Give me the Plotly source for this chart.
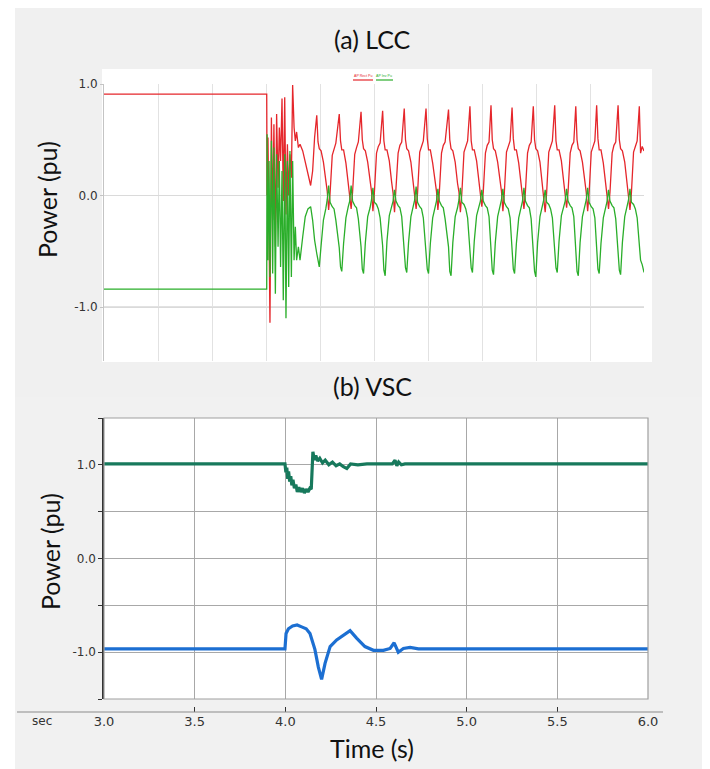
import plotly.graph_objects as go

W, H = 710, 769
OFF = 8  # page body margin offset of the rendered figure

# ---------------- (a) LCC data ----------------
t_lcc = [
    3.000, 3.904, 3.906, 3.911, 3.917, 3.922, 3.930, 3.937, 3.944, 3.952,
    3.959, 3.967, 3.974, 3.981, 3.989, 3.996, 4.004, 4.011, 4.019, 4.026,
    4.033, 4.041, 4.048, 4.056, 4.063, 4.070, 4.080, 4.089, 4.104, 4.118,
    4.133, 4.148, 4.159, 4.170,
    4.182, 4.189, 4.196, 4.206, 4.219, 4.232, 4.240, 4.248, 4.256, 4.268, 4.278, 4.288,
    4.307, 4.314, 4.321, 4.331, 4.344, 4.357, 4.365, 4.373, 4.381, 4.393, 4.403, 4.413,
    4.428, 4.435, 4.442, 4.452, 4.465, 4.478, 4.486, 4.494, 4.502, 4.514, 4.524, 4.534,
    4.548, 4.555, 4.562, 4.572, 4.585, 4.598, 4.606, 4.614, 4.622, 4.634, 4.644, 4.654,
    4.668, 4.675, 4.682, 4.692, 4.705, 4.718, 4.726, 4.734, 4.742, 4.754, 4.764, 4.774,
    4.789, 4.796, 4.803, 4.813, 4.826, 4.839, 4.847, 4.855, 4.863, 4.875, 4.885, 4.895,
    4.914, 4.921, 4.928, 4.938, 4.951, 4.964, 4.972, 4.980, 4.988, 5.000, 5.010, 5.020,
    5.033, 5.040, 5.047, 5.057, 5.070, 5.083, 5.091, 5.099, 5.107, 5.119, 5.129, 5.139,
    5.150, 5.157, 5.164, 5.174, 5.187, 5.200, 5.208, 5.216, 5.224, 5.236, 5.246, 5.256,
    5.267, 5.274, 5.281, 5.291, 5.304, 5.317, 5.325, 5.333, 5.341, 5.353, 5.363, 5.373,
    5.385, 5.392, 5.399, 5.409, 5.422, 5.435, 5.443, 5.451, 5.459, 5.471, 5.481, 5.491,
    5.504, 5.511, 5.518, 5.528, 5.541, 5.554, 5.562, 5.570, 5.578, 5.590, 5.600, 5.610,
    5.621, 5.628, 5.635, 5.645, 5.658, 5.671, 5.679, 5.687, 5.695, 5.707, 5.717, 5.727,
    5.737, 5.744, 5.751, 5.761, 5.774, 5.787, 5.795, 5.803, 5.811, 5.823, 5.833, 5.843,
    5.856, 5.863, 5.870, 5.880, 5.893, 5.906, 5.914, 5.922, 5.930, 5.942, 5.952, 5.962,
    5.974, 5.981, 5.990, 6.000,
]

p_rect_lcc = [
    0.91, 0.91, 0.00, 0.52, -0.34, -1.14, 0.70, -0.22, 0.64, -0.46,
    0.73, 0.07, 0.61, 0.31, 0.87, -0.05, 0.88, -0.17, 0.46, 0.00,
    0.37, 0.16, 0.99, 0.61, 0.49, 0.57, 0.43, 0.46, 0.40, 0.31,
    0.19, 0.09, 0.22, 0.52,
    0.72, 0.48, 0.42, 0.40, 0.30, 0.13, 0.04, -0.13, 0.02, 0.36, 0.42, 0.47,
    0.73, 0.49, 0.41, 0.41, 0.29, 0.12, 0.03, -0.12, 0.03, 0.37, 0.43, 0.48,
    0.75, 0.50, 0.42, 0.40, 0.30, 0.11, 0.04, -0.14, 0.02, 0.38, 0.44, 0.47,
    0.76, 0.49, 0.41, 0.41, 0.31, 0.12, 0.02, -0.15, 0.03, 0.38, 0.45, 0.48,
    0.78, 0.50, 0.42, 0.40, 0.30, 0.13, 0.03, -0.12, 0.02, 0.39, 0.44, 0.49,
    0.78, 0.51, 0.41, 0.41, 0.29, 0.12, 0.04, -0.13, 0.03, 0.38, 0.45, 0.48,
    0.77, 0.50, 0.42, 0.40, 0.30, 0.11, 0.03, -0.15, 0.02, 0.39, 0.44, 0.49,
    0.80, 0.49, 0.41, 0.41, 0.31, 0.12, 0.02, -0.10, 0.03, 0.38, 0.45, 0.48,
    0.81, 0.50, 0.42, 0.40, 0.30, 0.13, 0.04, -0.14, 0.02, 0.39, 0.44, 0.49,
    0.79, 0.51, 0.41, 0.41, 0.29, 0.12, 0.03, -0.12, 0.03, 0.38, 0.45, 0.48,
    0.80, 0.50, 0.42, 0.40, 0.30, 0.11, 0.02, -0.15, 0.02, 0.39, 0.44, 0.49,
    0.81, 0.49, 0.41, 0.41, 0.31, 0.12, 0.04, -0.11, 0.03, 0.38, 0.45, 0.48,
    0.80, 0.50, 0.42, 0.40, 0.30, 0.13, 0.03, -0.14, 0.02, 0.39, 0.44, 0.49,
    0.81, 0.51, 0.41, 0.41, 0.29, 0.12, 0.02, -0.12, 0.03, 0.38, 0.45, 0.48,
    0.81, 0.50, 0.42, 0.40, 0.30, 0.11, 0.04, -0.13, 0.02, 0.39, 0.44, 0.49,
    0.80, 0.38, 0.44, 0.40,
]

p_inv_lcc = [
    -0.84, -0.84, 0.55, -0.58, 0.31, -0.73, 0.49, -0.70, 0.43, -0.88,
    0.37, -0.46, 0.31, -0.64, 0.22, -0.94, 0.37, -1.10, 0.31, -0.82,
    0.40, -0.73, 0.31, -0.58, -0.28, -0.58, -0.46, -0.58, -0.37, -0.19,
    -0.12, -0.10, -0.22, -0.40,
    -0.52, -0.60, -0.64, -0.45, -0.22, -0.12, -0.04, 0.09, -0.06, -0.10, -0.12, -0.22,
    -0.47, -0.64, -0.68, -0.43, -0.20, -0.10, -0.05, 0.09, -0.05, -0.09, -0.11, -0.21,
    -0.46, -0.66, -0.70, -0.42, -0.19, -0.11, -0.04, 0.07, -0.06, -0.08, -0.12, -0.20,
    -0.45, -0.67, -0.72, -0.41, -0.18, -0.10, -0.05, 0.05, -0.05, -0.09, -0.11, -0.19,
    -0.46, -0.65, -0.69, -0.42, -0.19, -0.09, -0.04, 0.08, -0.06, -0.10, -0.12, -0.20,
    -0.47, -0.66, -0.70, -0.43, -0.20, -0.10, -0.05, 0.06, -0.05, -0.09, -0.11, -0.21,
    -0.46, -0.68, -0.72, -0.42, -0.19, -0.11, -0.04, 0.07, -0.06, -0.08, -0.12, -0.20,
    -0.45, -0.65, -0.69, -0.41, -0.18, -0.10, -0.05, 0.05, -0.05, -0.09, -0.11, -0.19,
    -0.46, -0.67, -0.71, -0.42, -0.19, -0.09, -0.04, 0.06, -0.06, -0.10, -0.12, -0.20,
    -0.47, -0.66, -0.70, -0.43, -0.20, -0.10, -0.05, 0.07, -0.05, -0.09, -0.11, -0.21,
    -0.46, -0.68, -0.73, -0.42, -0.19, -0.11, -0.04, 0.05, -0.06, -0.08, -0.12, -0.20,
    -0.45, -0.65, -0.69, -0.41, -0.18, -0.10, -0.05, 0.06, -0.05, -0.09, -0.11, -0.19,
    -0.46, -0.68, -0.72, -0.42, -0.19, -0.09, -0.04, 0.07, -0.06, -0.10, -0.12, -0.20,
    -0.47, -0.66, -0.70, -0.43, -0.20, -0.10, -0.05, 0.05, -0.05, -0.09, -0.11, -0.21,
    -0.46, -0.67, -0.71, -0.42, -0.19, -0.11, -0.04, 0.06, -0.06, -0.08, -0.12, -0.20,
    -0.47, -0.58, -0.62, -0.69,
]

# ---------------- (b) VSC data ----------------
t_vsc_rect = [3.000, 3.998, 4.003, 4.008, 4.013, 4.018, 4.024, 4.030, 4.036,
              4.042, 4.050, 4.058, 4.066, 4.075, 4.085, 4.095, 4.105, 4.115,
              4.125, 4.135, 4.143, 4.147, 4.152, 4.160, 4.168, 4.178, 4.190,
              4.205, 4.220, 4.240, 4.260, 4.280, 4.300, 4.320, 4.339, 4.360,
              4.400, 4.450, 4.590, 4.605, 4.615, 4.625, 4.640, 4.660, 6.000]
p_vsc_rect = [1.01, 1.01, 0.92, 0.97, 0.85, 0.93, 0.82, 0.88, 0.78,
              0.84, 0.75, 0.79, 0.71, 0.76, 0.71, 0.75, 0.70, 0.74,
              0.71, 0.75, 0.74, 0.98, 1.14, 1.05, 1.10, 1.04, 1.07,
              1.02, 1.05, 1.00, 1.03, 0.99, 1.01, 0.98, 0.96, 1.01,
              1.00, 1.01, 1.01, 1.05, 0.99, 1.03, 1.00, 1.01, 1.01]

t_vsc_inv = [3.000, 3.998, 4.004, 4.017, 4.040, 4.065, 4.090, 4.115, 4.136,
             4.163, 4.182, 4.200, 4.219, 4.247, 4.283, 4.320, 4.357, 4.393,
             4.439, 4.486, 4.541, 4.578, 4.600, 4.623, 4.651, 4.688, 4.734,
             6.000]
p_vsc_inv = [-0.965, -0.965, -0.80, -0.75, -0.72, -0.71, -0.73, -0.75, -0.80,
             -0.97, -1.16, -1.29, -1.12, -0.94, -0.87, -0.82, -0.77, -0.85,
             -0.94, -0.98, -0.98, -0.96, -0.90, -1.00, -0.96, -0.95, -0.965,
             -0.965]

y_ticks_top = [1.0, 0.0, -1.0]
y_tick_text_top = ["1.0", "0.0", "-1.0"]
y_ticks_bot = [-1.5, -1.0, -0.5, 0.0, 0.5, 1.0, 1.5]
y_tick_text_bot = ["", "-1.0", "", "0.0", "", "1.0", ""]
x_ticks_bot = [3.0, 3.5, 4.0, 4.5, 5.0, 5.5, 6.0]
x_tick_text_bot = ["3.0", "3.5", "4.0", "4.5", "5.0", "5.5", "6.0"]


def px(x):
    return (x - OFF) / W


def py(y):
    return min(1.0, 1 - (y - OFF) / H)


RED = "#e5262b"
GREEN = "#2aae2a"
TEAL = "#17795c"
BLUE = "#1c6fd2"

fig = go.Figure()
fig.add_trace(go.Scatter(x=t_lcc, y=p_rect_lcc, mode="lines", xaxis="x", yaxis="y",
                         line=dict(color=RED, width=1.3), showlegend=False))
fig.add_trace(go.Scatter(x=t_lcc, y=p_inv_lcc, mode="lines", xaxis="x", yaxis="y",
                         line=dict(color=GREEN, width=1.3), showlegend=False))
fig.add_trace(go.Scatter(x=t_vsc_rect, y=p_vsc_rect, mode="lines", xaxis="x2", yaxis="y2",
                         line=dict(color=TEAL, width=3.2), showlegend=False))
fig.add_trace(go.Scatter(x=t_vsc_inv, y=p_vsc_inv, mode="lines", xaxis="x2", yaxis="y2",
                         line=dict(color=BLUE, width=3.2), showlegend=False))
fig.add_trace(go.Scatter(x=[3.0, 6.0], y=[None, None], mode="lines", xaxis="x3", yaxis="y2",
                         showlegend=False, hoverinfo="skip"))

tick_font = dict(family="DejaVu Sans", size=12, color="#333333")

fig.update_layout(
    template="none",
    width=W, height=H,
    margin=dict(l=0, r=0, t=0, b=0, pad=0, autoexpand=False),
    paper_bgcolor="white",
    plot_bgcolor="rgba(0,0,0,0)",
    showlegend=False,
    xaxis=dict(domain=[px(104), px(644)], range=[3.0, 6.0], tick0=3.0, dtick=0.3,
               showgrid=True, gridcolor="#e2e2e2", gridwidth=1, showticklabels=False,
               zeroline=False, showline=False, ticks="", anchor="y", automargin=False),
    yaxis=dict(domain=[py(361), py(84)], range=[-1.484, 1.0], tickvals=y_ticks_top,
               ticktext=y_tick_text_top, showgrid=True, gridcolor="#dadada",
               zeroline=False, showline=True, linecolor="#c4c4c4", linewidth=1,
               ticks="outside", ticklen=3, tickcolor="#c4c4c4", tickfont=tick_font,
               anchor="x", automargin=False),
    xaxis2=dict(domain=[px(104), px(648)], range=[3.0, 6.0], tick0=3.0, dtick=0.5,
                showgrid=True, gridcolor="#a8a8a8", gridwidth=1, showticklabels=False,
                zeroline=False, showline=False, ticks="", anchor="y2", automargin=False),
    yaxis2=dict(domain=[py(699), py(418)], range=[-1.5, 1.5], tickvals=y_ticks_bot,
                ticktext=y_tick_text_bot, showgrid=True, gridcolor="#a8a8a8",
                zeroline=False, showline=True, linecolor="#333333", linewidth=1.5,
                ticks="outside", ticklen=4, tickcolor="#333333", tickfont=tick_font,
                anchor="x2", automargin=False),
    xaxis3=dict(domain=[px(104), px(648)], range=[3.0, 6.0], overlaying="x2",
                anchor="free", position=py(712), tickvals=x_ticks_bot,
                ticktext=x_tick_text_bot, ticks="inside", ticklen=5,
                tickcolor="#333333", showgrid=False, zeroline=False, showline=False,
                automargin=False,
                tickfont=dict(family="DejaVu Sans", size=13, color="#333333")),
)

shapes = [
    dict(type="rect", xref="paper", yref="paper", x0=px(15), x1=1, y0=py(397), y1=py(6),
         fillcolor="#f0f0f0", line=dict(width=0), layer="below"),
    dict(type="rect", xref="paper", yref="paper", x0=px(15), x1=1, y0=0, y1=py(397),
         fillcolor="#f1f1f1", line=dict(width=0), layer="below"),
    dict(type="rect", xref="paper", yref="paper", x0=px(102), x1=px(652), y0=py(362), y1=py(69),
         fillcolor="white", line=dict(width=0), layer="below"),
    dict(type="rect", xref="paper", yref="paper", x0=px(104), x1=px(648), y0=py(699), y1=py(418),
         fillcolor="white", line=dict(width=0), layer="below"),
    dict(type="rect", xref="paper", yref="paper", x0=px(104), x1=px(648), y0=py(699), y1=py(418),
         fillcolor="rgba(0,0,0,0)", line=dict(color="#a0a0a0", width=1.2), layer="above"),
    dict(type="line", xref="paper", yref="paper", x0=px(17), x1=px(663), y0=py(712), y1=py(712),
         line=dict(color="#8c8c8c", width=1.2)),
    dict(type="line", xref="x", yref="y", x0=3.0, x1=6.0, y0=-1.0, y1=-1.0,
         line=dict(color="#c6c6c6", width=1.2), layer="below"),
    dict(type="line", xref="paper", yref="paper", x0=px(353), x1=px(373), y0=py(80), y1=py(80),
         line=dict(color=RED, width=1.2)),
    dict(type="line", xref="paper", yref="paper", x0=px(376), x1=px(393), y0=py(80), y1=py(80),
         line=dict(color=GREEN, width=1.2)),
]
fig.update_layout(shapes=shapes)

title_font = dict(family="Lato", size=25, color="#111111")
annotations = [
    dict(text="(a) LCC", x=px(372), y=py(39), xref="paper", yref="paper",
         showarrow=False, font=title_font, xanchor="center", yanchor="middle"),
    dict(text="(b) VSC", x=px(372), y=py(386), xref="paper", yref="paper",
         showarrow=False, font=title_font, xanchor="center", yanchor="middle"),
    dict(text="Power (pu)", x=px(47), y=py(200), xref="paper", yref="paper",
         showarrow=False, font=title_font, textangle=-90, xanchor="center", yanchor="middle"),
    dict(text="Power (pu)", x=px(50), y=py(552), xref="paper", yref="paper",
         showarrow=False, font=title_font, textangle=-90, xanchor="center", yanchor="middle"),
    dict(text="Time (s)", x=px(372), y=py(748), xref="paper", yref="paper",
         showarrow=False, font=title_font, xanchor="center", yanchor="middle"),
    dict(text="sec", x=px(42), y=py(721), xref="paper", yref="paper",
         showarrow=False, font=dict(family="DejaVu Sans", size=12, color="#333333"),
         xanchor="center", yanchor="middle"),
    dict(text="AP Rect Pu", x=px(363), y=py(76), xref="paper", yref="paper",
         showarrow=False, font=dict(family="Liberation Sans", size=3.6, color=RED),
         xanchor="center", yanchor="middle"),
    dict(text="AP Inv Pu", x=px(384.5), y=py(76), xref="paper", yref="paper",
         showarrow=False, font=dict(family="Liberation Sans", size=3.6, color=GREEN),
         xanchor="center", yanchor="middle"),
]
fig.update_layout(annotations=annotations)

fig.write_html("out.html")
